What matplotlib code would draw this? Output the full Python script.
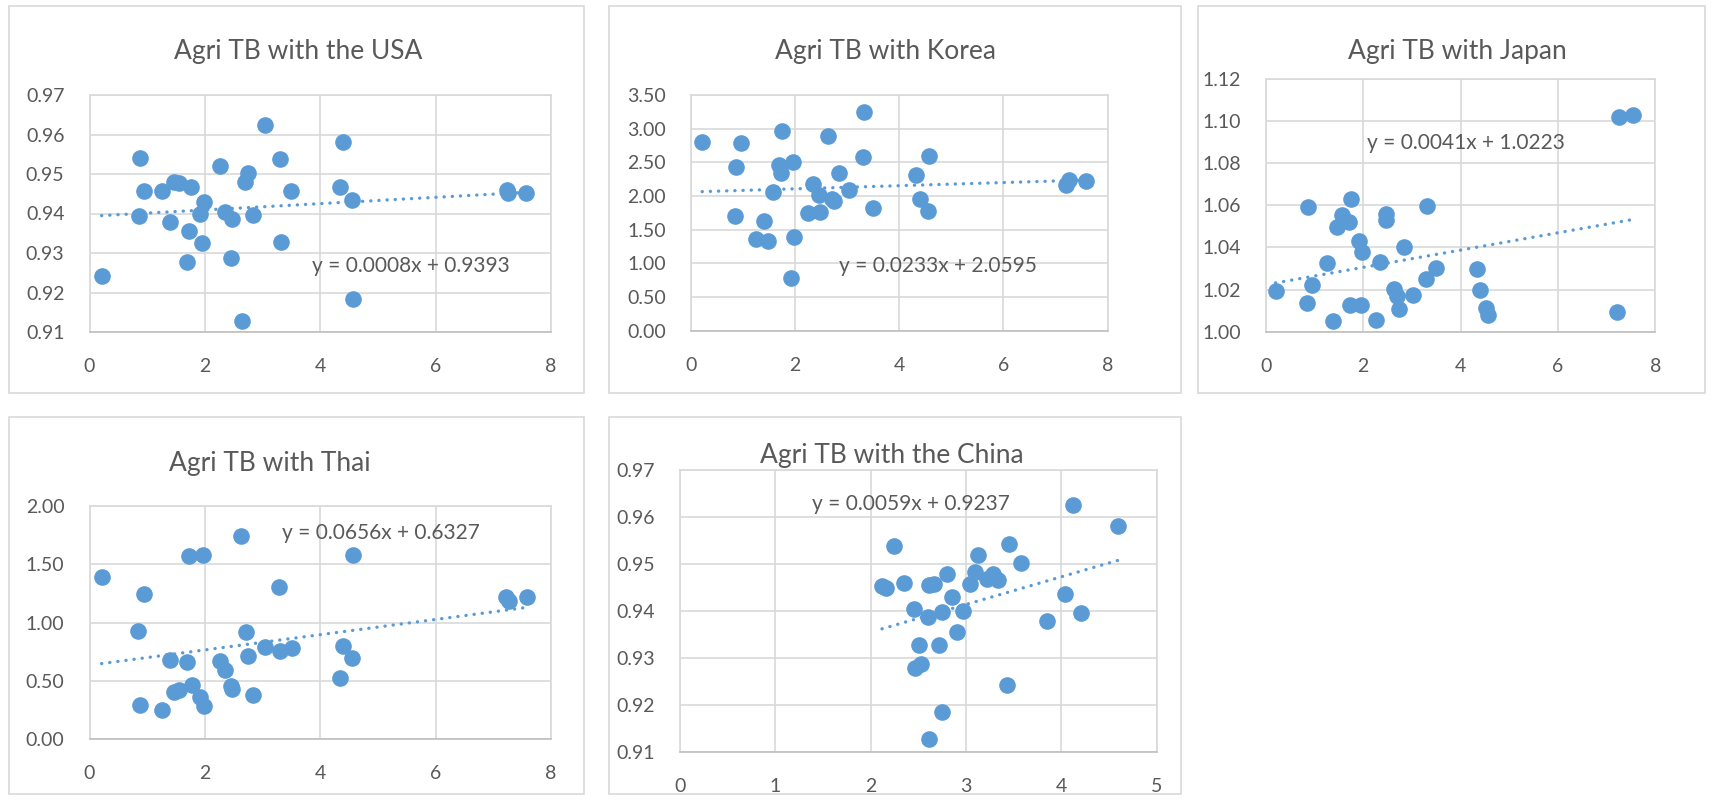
import matplotlib
matplotlib.use("Agg")
import matplotlib.pyplot as plt
from matplotlib.patches import Rectangle
import numpy as np

plt.rcParams['font.family'] = ['Lato', 'DejaVu Sans']

usa_x = [0.21, 0.87, 0.85, 0.95, 1.26, 1.40, 1.47, 1.56, 1.76, 1.73, 1.69, 1.92, 1.98, 1.95, 2.27, 2.35,
         2.47, 2.46, 2.64, 2.69, 2.75, 2.84, 3.04, 3.30, 3.32, 3.50, 4.34, 4.39, 4.55, 4.57, 7.24, 7.26, 7.57]
usa_y = [0.9242, 0.9541, 0.9394, 0.9457, 0.9457, 0.9379, 0.9480, 0.9476, 0.9466, 0.9355, 0.9277, 0.9400,
         0.9430, 0.9326, 0.9519, 0.9404, 0.9386, 0.9288, 0.9127, 0.9479, 0.9502, 0.9396, 0.9625, 0.9539,
         0.9328, 0.9457, 0.9468, 0.9581, 0.9435, 0.9184, 0.9459, 0.9451, 0.9452]

korea_x = [0.22, 0.96, 0.87, 0.85, 1.26, 1.40, 1.48, 1.58, 1.69, 1.74, 1.76, 1.97, 1.92, 1.99, 2.26, 2.35,
           2.47, 2.48, 2.63, 2.71, 2.75, 2.85, 3.04, 3.30, 3.32, 3.50, 4.33, 4.40, 4.58, 4.55, 7.21, 7.26, 7.58]
korea_y = [2.805, 2.780, 2.437, 1.698, 1.365, 1.633, 1.335, 2.060, 2.457, 2.338, 2.964, 2.502, 0.779,
           1.385, 1.752, 2.184, 2.010, 1.762, 2.894, 1.951, 1.921, 2.348, 2.090, 2.586, 3.242, 1.822,
           2.318, 1.961, 2.601, 1.772, 2.159, 2.234, 2.229]

japan_x = [0.20, 0.87, 0.85, 0.94, 1.26, 1.39, 1.46, 1.56, 1.70, 1.75, 1.73, 1.91, 1.97, 1.96, 2.26, 2.34,
           2.47, 2.46, 2.63, 2.70, 2.74, 2.84, 3.03, 3.29, 3.31, 3.50, 4.33, 4.39, 4.53, 4.56, 7.21, 7.25, 7.55]
japan_y = [1.0194, 1.0592, 1.0137, 1.0223, 1.0327, 1.0049, 1.0497, 1.0553, 1.0519, 1.0630, 1.0128, 1.0428,
           1.0380, 1.0125, 1.0055, 1.0330, 1.0560, 1.0529, 1.0204, 1.0169, 1.0106, 1.0403, 1.0175, 1.0248,
           1.0598, 1.0302, 1.0295, 1.0200, 1.0112, 1.0080, 1.0093, 1.1018, 1.1028]

thai_x = [0.21, 0.95, 0.84, 0.87, 1.26, 1.40, 1.47, 1.56, 1.69, 1.73, 1.77, 1.96, 1.92, 1.99, 2.26, 2.35,
          2.46, 2.47, 2.63, 2.71, 2.75, 2.84, 3.04, 3.29, 3.31, 3.51, 4.34, 4.40, 4.56, 4.55, 7.22, 7.28, 7.58]
thai_y = [1.390, 1.246, 0.931, 0.289, 0.249, 0.679, 0.404, 0.421, 0.656, 1.573, 0.461, 1.585, 0.358,
          0.278, 0.668, 0.587, 0.450, 0.427, 1.745, 0.920, 0.708, 0.375, 0.788, 1.304, 0.754, 0.777,
          0.524, 0.794, 1.585, 0.696, 1.223, 1.183, 1.218]

china_x = [2.12, 2.16, 2.25, 2.35, 2.46, 2.51, 2.47, 2.53, 2.60, 2.61, 2.61, 2.66, 2.72, 2.75, 2.75, 2.80,
           2.85, 2.91, 2.97, 3.04, 3.10, 3.13, 3.22, 3.28, 3.34, 3.43, 3.45, 3.58, 3.85, 4.04, 4.12, 4.21, 4.59]
china_y = [0.9453, 0.9449, 0.9539, 0.9459, 0.9404, 0.9328, 0.9278, 0.9287, 0.9387, 0.9127, 0.9456, 0.9457,
           0.9327, 0.9185, 0.9399, 0.9478, 0.9430, 0.9356, 0.9401, 0.9457, 0.9483, 0.9519, 0.9469, 0.9478,
           0.9466, 0.9242, 0.9542, 0.9502, 0.9378, 0.9436, 0.9625, 0.9395, 0.9581]

# Titoli e rette di tendenza (coefficienti come riportati nel grafico).
titles = ["Agri TB with the USA", "Agri TB with Korea", "Agri TB with Japan",
          "Agri TB with Thai", "Agri TB with the China"]
slopes = [0.0008, 0.0233, 0.0041, 0.0656, 0.0059]
intercepts = [0.9393, 2.0595, 1.0223, 0.6327, 0.9237]

W, H = 1711, 801
BLUE = "#5b9bd5"
GRAY = "#595959"
GRID = "#d9d9d9"

fig = plt.figure(figsize=(W / 100, H / 100), dpi=100)


def frac_box(l, t, r, b):
    """Converte un box in pixel (dall'alto) in coordinate figura."""
    return [l / W, 1 - b / H, (r - l) / W, (b - t) / H]


def draw_panel(x, y, k, q, title, chart_box, plot_box, title_pos,
               xlim, xstep, ylim, ystep, eq_pos):
    l, t, r, b = chart_box
    fig.patches.append(Rectangle((l / W, 1 - b / H), (r - l) / W, (b - t) / H,
                                 transform=fig.transFigure, facecolor="none",
                                 edgecolor=GRID, linewidth=1.2, zorder=-1))
    ax = fig.add_axes(frac_box(*plot_box))
    ax.set_facecolor("none")
    ax.scatter(x, y, s=120, color=BLUE, edgecolors=BLUE, zorder=3)
    xs = np.array([min(x), max(x)])
    ax.plot(xs, k * xs + q, color=BLUE, linewidth=2.4,
            linestyle=(0, (0.05, 2.4)), dash_capstyle="round", zorder=2)
    ax.set_xlim(*xlim)
    ax.set_ylim(*ylim)
    ax.set_xticks(np.arange(xlim[0], xlim[1] + 1e-9, xstep))
    ax.set_yticks(np.arange(ylim[0], ylim[1] + 1e-9, ystep))
    ax.yaxis.set_major_formatter(plt.FormatStrFormatter("%.2f"))
    ax.xaxis.set_major_formatter(plt.FormatStrFormatter("%d"))
    ax.tick_params(length=0, labelsize=14, labelcolor=GRAY)
    ax.tick_params(axis="y", pad=18)
    ax.tick_params(axis="x", pad=19)
    ax.grid(True, color=GRID, linewidth=1.2)
    ax.set_axisbelow(True)
    for sp in ax.spines.values():
        sp.set_color(GRID)
        sp.set_linewidth(1.2)
    ax.spines["bottom"].set_color("#bfbfbf")
    eq = "y = {:.4f}x + {:.4f}".format(k, q)
    ax.text(eq_pos[0], eq_pos[1], eq, ha="center", va="center",
            fontsize=15, color=GRAY, zorder=4)
    fig.text(title_pos[0] / W, 1 - title_pos[1] / H, title, ha="center",
             va="center", fontsize=19, color=GRAY)
    return ax


draw_panel(usa_x, usa_y, slopes[0], intercepts[0], titles[0],
           (9, 6, 584, 393), (89.5, 95, 551, 332), (298, 51),
           (0, 8), 2, (0.91, 0.97), 0.01, (5.57, 0.9267))
draw_panel(korea_x, korea_y, slopes[1], intercepts[1], titles[1],
           (609, 6, 1181, 393), (690.7, 95, 1107.6, 330.6), (885, 51),
           (0, 8), 2, (0.0, 3.5), 0.5, (4.74, 0.953))
draw_panel(japan_x, japan_y, slopes[2], intercepts[2], titles[2],
           (1198, 6, 1704.5, 393), (1265.8, 78.6, 1655.4, 331.7), (1457, 51),
           (0, 8), 2, (1.0, 1.12), 0.02, (4.11, 1.0897))
draw_panel(thai_x, thai_y, slopes[3], intercepts[3], titles[3],
           (9, 417, 584, 794.4), (89.5, 506.3, 551, 738.7), (269.5, 463),
           (0, 8), 2, (0.0, 2.0), 0.5, (5.06, 1.771))
draw_panel(china_x, china_y, slopes[4], intercepts[4], titles[4],
           (609, 417, 1181, 794.4), (679.8, 470.3, 1156.7, 751.8), (891.5, 455),
           (0, 5), 1, (0.91, 0.97), 0.01, (2.42, 0.9628))

plt.savefig("out.png", dpi=100)
